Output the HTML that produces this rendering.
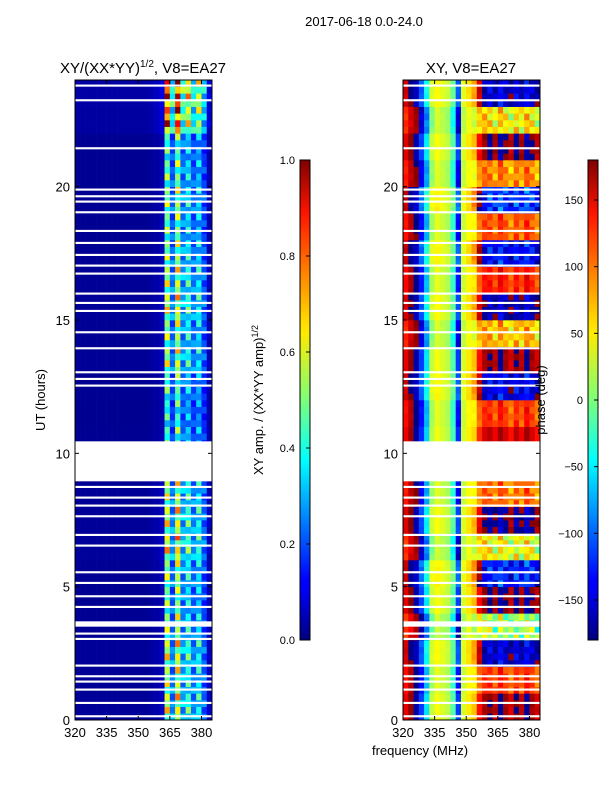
<!DOCTYPE html>
<html><head><meta charset="utf-8"><style>
body{margin:0;background:#fff;font-family:"Liberation Sans","DejaVu Sans",sans-serif;}
svg text{font-family:"Liberation Sans","DejaVu Sans",sans-serif;}
</style></head><body>
<svg id="fig" width="600" height="800" viewBox="0 0 600 800" xmlns="http://www.w3.org/2000/svg">
<defs>
<linearGradient id="jet" x1="0" y1="1" x2="0" y2="0">
<stop offset="0" stop-color="#00007f"/><stop offset="0.11" stop-color="#0000ff"/><stop offset="0.125" stop-color="#0000ff"/>
<stop offset="0.34" stop-color="#00dcff"/><stop offset="0.375" stop-color="#00ffff"/><stop offset="0.5" stop-color="#7dff7a"/>
<stop offset="0.64" stop-color="#ffea00"/><stop offset="0.66" stop-color="#ffde00"/><stop offset="0.89" stop-color="#ff1300"/><stop offset="1" stop-color="#7f0000"/>
</linearGradient>
</defs>
<text x="364" y="26" font-size="13" text-anchor="middle">2017-06-18 0.0-24.0</text>
<text x="143" y="73" font-size="15" text-anchor="middle">XY/(XX*YY)<tspan font-size="10" dy="-6">1/2</tspan><tspan dy="6">, V8=EA27</tspan></text>
<text x="471" y="73" font-size="15" text-anchor="middle">XY, V8=EA27</text>
<g id="ampHeat"></g>
<g id="phHeat"></g>
<g id="axes"></g>
<text transform="translate(45,400) rotate(-90)" font-size="13" text-anchor="middle">UT (hours)</text>
<text x="420" y="755" font-size="13" text-anchor="middle">frequency (MHz)</text>
<rect x="300" y="160" width="10" height="480" fill="url(#jet)" stroke="#000" stroke-width="1"/>
<rect x="588" y="160" width="10" height="480" fill="url(#jet)" stroke="#000" stroke-width="1"/>
<text transform="translate(263,400) rotate(-90)" font-size="13" text-anchor="middle">XY amp. / (XX*YY amp)<tspan font-size="9" dy="-5">1/2</tspan></text>
<text transform="translate(545,400) rotate(-90)" font-size="13" text-anchor="middle">phase (deg)</text>
<g id="cbticks"></g>
</svg>
<script>
const freqStarts=[320,322.5,325,327.5,330,332.5,335,337.5,340,342.5,345,347.5,350,352.5,355,357.5,360,362.5,365,367.5,370,372.5,375,377.5,380,382.5];
const ampProfile=[0.03,0.03,0.03,0.03,0.03,0.03,0.03,0.03,0.03,0.03,0.03,0.03,0.03,0.03,0.04,0.05,0.08,0.75,0.35,0.8,0.4,0.55,0.35,0.5,0.3,0.08];
const hourMod=[0.8,0.75,0.8,0.7,0.65,0.7,0.85,0.8,0.75,0.7,0.6,0.55,0.6,0.75,0.7,0.8,0.75,0.7,0.65,0.7,0.65,0.6,1.1,1.2];
const quarterTex=[1.0,0.7,1.2,0.85];
const phaseProfile=[140,170,-170,-120,-60,20,40,30,20,-20,-120,30,50,60,120,150,160,140,170,150,130,160,140,170,150,130];
const phaseSens=[0.2,0.2,0.2,0.3,0.3,0.2,0.1,0.1,0.1,0.2,0.3,0.1,0.1,0.3,0.6,0.8,1,1,1,1,1,1,1,1,1,1];
const hourShift=[20,-40,60,-150,30,90,-120,40,-60,0,0,-40,70,20,-90,50,-30,80,-50,100,-70,30,-110,60];
const gapStarts=[23.75,23.2,21.4,19.85,19.6,19.4,19.0,18.3,17.85,17.4,17.0,16.7,15.95,15.6,15.3,14.5,13.9,13.0,12.75,12.5,8.95,8.7,8.3,8.0,7.6,6.9,6.5,5.5,5.1,4.6,4.2,3.5,3.2,3.0,2.0,1.6,1.4,1.1,0.6,0.1];
const gapEnds=[23.83,23.28,21.48,19.93,19.68,19.48,19.08,18.38,17.93,17.48,17.08,16.78,16.03,15.68,15.38,14.58,13.98,13.08,12.83,12.58,10.45,8.78,8.38,8.08,7.68,6.98,6.58,5.58,5.18,4.68,4.28,3.7,3.28,3.08,2.08,1.68,1.48,1.18,0.68,0.18];
const xTicks=[320,335,350,365,380];
const yTicks=[0,5,10,15,20];
const ampCbTicks=[0,0.2,0.4,0.6,0.8,1.0];
const phCbTicks=[-150,-100,-50,0,50,100,150];

const NS="http://www.w3.org/2000/svg";
const Y0=80,Y1=720,PW=137;
const yS=h=>Y1-(h/24)*(Y1-Y0);
const xS=(x0,f)=>x0+(f-320)*PW/65;
function jet(t){t=Math.max(0,Math.min(1,t));
 const r=Math.max(0,Math.min(1,1.5-Math.abs(4*t-3))),g=Math.max(0,Math.min(1,1.5-Math.abs(4*t-2))),b=Math.max(0,Math.min(1,1.5-Math.abs(4*t-1)));
 return `rgb(${Math.round(r*255)},${Math.round(g*255)},${Math.round(b*255)})`;}
function mk(tag,attrs,parent){const e=document.createElementNS(NS,tag);for(const k in attrs)e.setAttribute(k,attrs[k]);parent.appendChild(e);return e;}
const ampG=document.getElementById('ampHeat'),phG=document.getElementById('phHeat');
for(let q=0;q<96;q++){
 const h=q/4,hr=Math.floor(h);
 for(let c=0;c<freqStarts.length;c++){
  let a=ampProfile[c]*hourMod[hr]*(c>16?quarterTex[(q+c)%4]:1);
  let r=mk('rect',{x:xS(75,freqStarts[c]),y:yS(h+0.25),width:PW*2.5/65+0.3,height:(Y1-Y0)/96+0.3,fill:jet(a)},ampG);
  
  
  let p=phaseProfile[c]+hourShift[hr]*phaseSens[c]*quarterTex[(q+c)%4];
  p=((p+180)%360+360)%360-180;
  let r2=mk('rect',{x:xS(403,freqStarts[c]),y:yS(h+0.25),width:PW*2.5/65+0.3,height:(Y1-Y0)/96+0.3,fill:jet((p+180)/360)},phG);
  
  
 }
}
const ax=document.getElementById('axes');
for(const x0 of [75,403]){
 for(let i=0;i<gapStarts.length;i++){
  const g=mk('rect',{x:x0,y:yS(gapEnds[i]),width:PW,height:yS(gapStarts[i])-yS(gapEnds[i]),fill:'#fff'},ax);
  
  
 }
 const fr=mk('rect',{x:x0,y:Y0,width:PW,height:Y1-Y0,fill:'none',stroke:'#000','stroke-width':1},ax);
 
 
 for(const t of xTicks){const x=xS(x0,t);
  mk('line',{x1:x,x2:x,y1:Y1,y2:Y1-4,stroke:'#000'},ax);mk('line',{x1:x,x2:x,y1:Y0,y2:Y0+4,stroke:'#000'},ax);
  const tx=mk('text',{x:x,y:Y1+17,'font-size':13,'text-anchor':'middle'},ax);tx.textContent=t;
  
  }
 for(const t of yTicks){const y=yS(t);
  mk('line',{x1:x0,x2:x0+4,y1:y,y2:y,stroke:'#000'},ax);mk('line',{x1:x0+PW,x2:x0+PW-4,y1:y,y2:y,stroke:'#000'},ax);
  const tx=mk('text',{x:x0-5,y:y+5,'font-size':13,'text-anchor':'end'},ax);tx.textContent=t;
  
  }
}
const cb=document.getElementById('cbticks');
for(const t of ampCbTicks){const y=640-t*480;
 mk('line',{x1:306,x2:310,y1:y,y2:y,stroke:'#000'},cb);
 const tx=mk('text',{x:295,y:y+4,'font-size':11,'text-anchor':'end'},cb);tx.textContent=t.toFixed(1);
 
 }
for(const t of phCbTicks){const y=160+(180-t)/360*480;
 mk('line',{x1:594,x2:598,y1:y,y2:y,stroke:'#000'},cb);
 const tx=mk('text',{x:583,y:y+4,'font-size':11,'text-anchor':'end'},cb);tx.textContent=t<0?'\u2212'+(-t):t;
 
 }
</script>
</body></html>
